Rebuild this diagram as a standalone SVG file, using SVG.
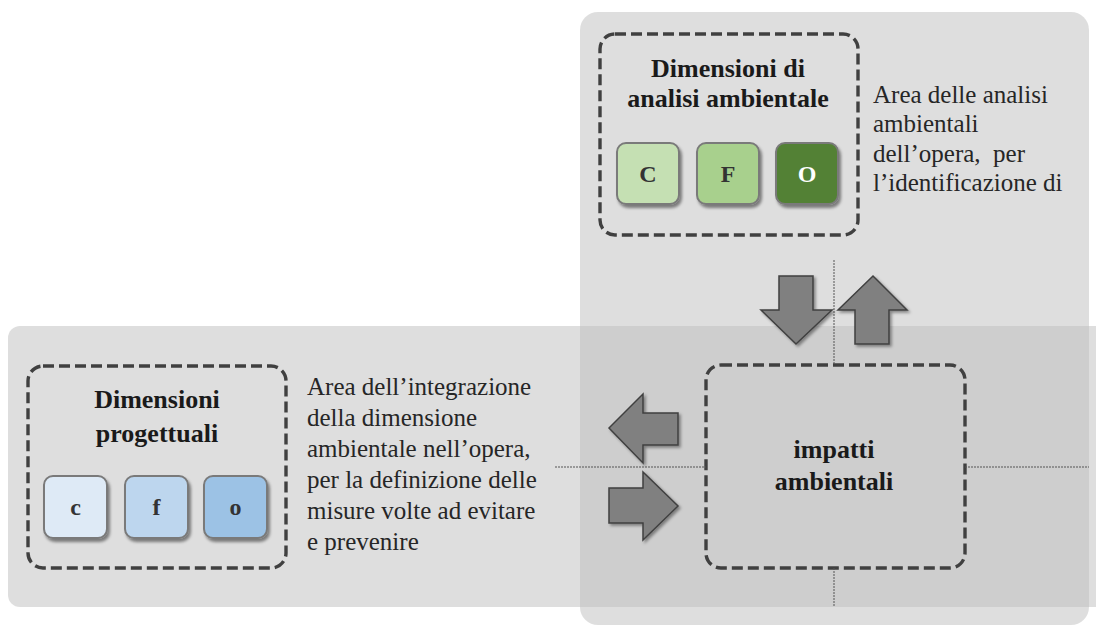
<svg xmlns="http://www.w3.org/2000/svg" width="1096" height="626" viewBox="0 0 1096 626">
  <defs>
    <filter id="shadow" x="-20%" y="-20%" width="150%" height="150%">
      <feDropShadow dx="2" dy="3" stdDeviation="1.6" flood-color="#000" flood-opacity="0.45"/>
    </filter>
    <filter id="arrowShadow" x="-20%" y="-20%" width="150%" height="150%">
      <feDropShadow dx="2" dy="2" stdDeviation="1.8" flood-color="#000" flood-opacity="0.4"/>
    </filter>
  </defs>
  <style>
    .panel { fill: #bfbfbf; fill-opacity: 0.52; }
    .dashbox { fill: none; stroke: #404040; stroke-width: 3.4; stroke-dasharray: 11 5; }
    .tile { stroke: #7a7a7a; stroke-width: 2; filter: url(#shadow); }
    .title { font-family: "Liberation Serif", "DejaVu Serif", serif; font-size: 26px; font-weight: bold; fill: #1a1a1a; text-anchor: middle; }
    .letter { font-family: "Liberation Serif", "DejaVu Serif", serif; font-size: 24px; font-weight: bold; fill: #333333; text-anchor: middle; }
    .desc { font-family: "Liberation Serif", "DejaVu Serif", serif; font-size: 25px; fill: #262626; white-space: pre; }
    .guide { fill: none; stroke: #555555; stroke-width: 1; stroke-dasharray: 2 1; }
    .arrow { fill: #808080; stroke: #404040; stroke-width: 1.5; stroke-linejoin: miter; filter: url(#arrowShadow); }
  </style>

  <!-- background areas -->
  <g id="areas">
    <rect class="panel" x="580" y="12" width="509" height="613" rx="18"/>
    <rect class="panel" x="8" y="326" width="1110" height="281" rx="12"/>
  </g>

  <!-- analysis dimensions -->
  <g id="analisi">
    <rect class="dashbox" x="600" y="34" width="258" height="201" rx="15"/>
    <text class="title" x="728" y="77">Dimensioni di</text>
    <text class="title" x="728" y="107">analisi ambientale</text>
    <rect class="tile" x="617" y="143" width="62" height="61" rx="9" fill="#c5e0b3"/>
    <rect class="tile" x="697" y="143" width="62" height="61" rx="9" fill="#a8d08d"/>
    <rect class="tile" x="776" y="143" width="62" height="61" rx="9" fill="#538135"/>
    <text class="letter" x="648" y="182">C</text>
    <text class="letter" x="728" y="182">F</text>
    <text class="letter" x="807" y="182" fill="#ffffff" style="fill:#ffffff">O</text>
  </g>

  <g id="analisi-desc">
    <text class="desc" x="873" y="103">Area delle analisi</text>
    <text class="desc" x="873" y="132">ambientali</text>
    <text class="desc" x="873" y="162">dell’opera,  per</text>
    <text class="desc" x="873" y="191">l’identificazione di</text>
  </g>

  <!-- design dimensions -->
  <g id="progettuali">
    <rect class="dashbox" x="28" y="366" width="258" height="202" rx="15"/>
    <text class="title" x="157" y="408">Dimensioni</text>
    <text class="title" x="157" y="442">progettuali</text>
    <rect class="tile" x="44" y="476" width="63" height="62" rx="9" fill="#deeaf6"/>
    <rect class="tile" x="125" y="476" width="63" height="62" rx="9" fill="#bdd6ee"/>
    <rect class="tile" x="204" y="476" width="63" height="62" rx="9" fill="#9cc2e5"/>
    <text class="letter" x="75.5" y="515">c</text>
    <text class="letter" x="156.5" y="515">f</text>
    <text class="letter" x="235.5" y="515">o</text>
  </g>

  <g id="progettuali-desc">
    <text class="desc" x="307" y="395">Area dell’integrazione</text>
    <text class="desc" x="307" y="426">della dimensione</text>
    <text class="desc" x="307" y="457">ambientale nell’opera,</text>
    <text class="desc" x="307" y="488">per la definizione delle</text>
    <text class="desc" x="307" y="519">misure volte ad evitare</text>
    <text class="desc" x="307" y="550">e prevenire</text>
  </g>

  <!-- environmental impacts -->
  <g id="impatti">
    <rect class="dashbox" x="706" y="365" width="259" height="203" rx="15"/>
    <text class="title" x="834" y="458">impatti</text>
    <text class="title" x="834" y="490">ambientali</text>
  </g>

  <!-- connectors: guide lines and flow arrows -->
  <g id="connectors">
    <line class="guide" x1="834" y1="260" x2="834" y2="365"/>
    <line class="guide" x1="834" y1="568" x2="834" y2="607"/>
    <line class="guide" x1="555" y1="467" x2="706" y2="467"/>
    <line class="guide" x1="965" y1="467" x2="1089" y2="467"/>
    <!-- down: analysis to impacts -->
    <polygon class="arrow" points="779,276 813,276 813,310 832,310 796,344 761,310 779,310"/>
    <!-- up: impacts to analysis -->
    <polygon class="arrow" points="873,276 907,310 889,310 889,344 855,344 855,310 838,310"/>
    <!-- left: impacts to design -->
    <polygon class="arrow" points="609,428 643,394 643,413 678,413 678,445 643,445 643,463"/>
    <!-- right: design to impacts -->
    <polygon class="arrow" points="609,488 643,488 643,472 678,506 643,540 643,523 609,523"/>
  </g>
</svg>
